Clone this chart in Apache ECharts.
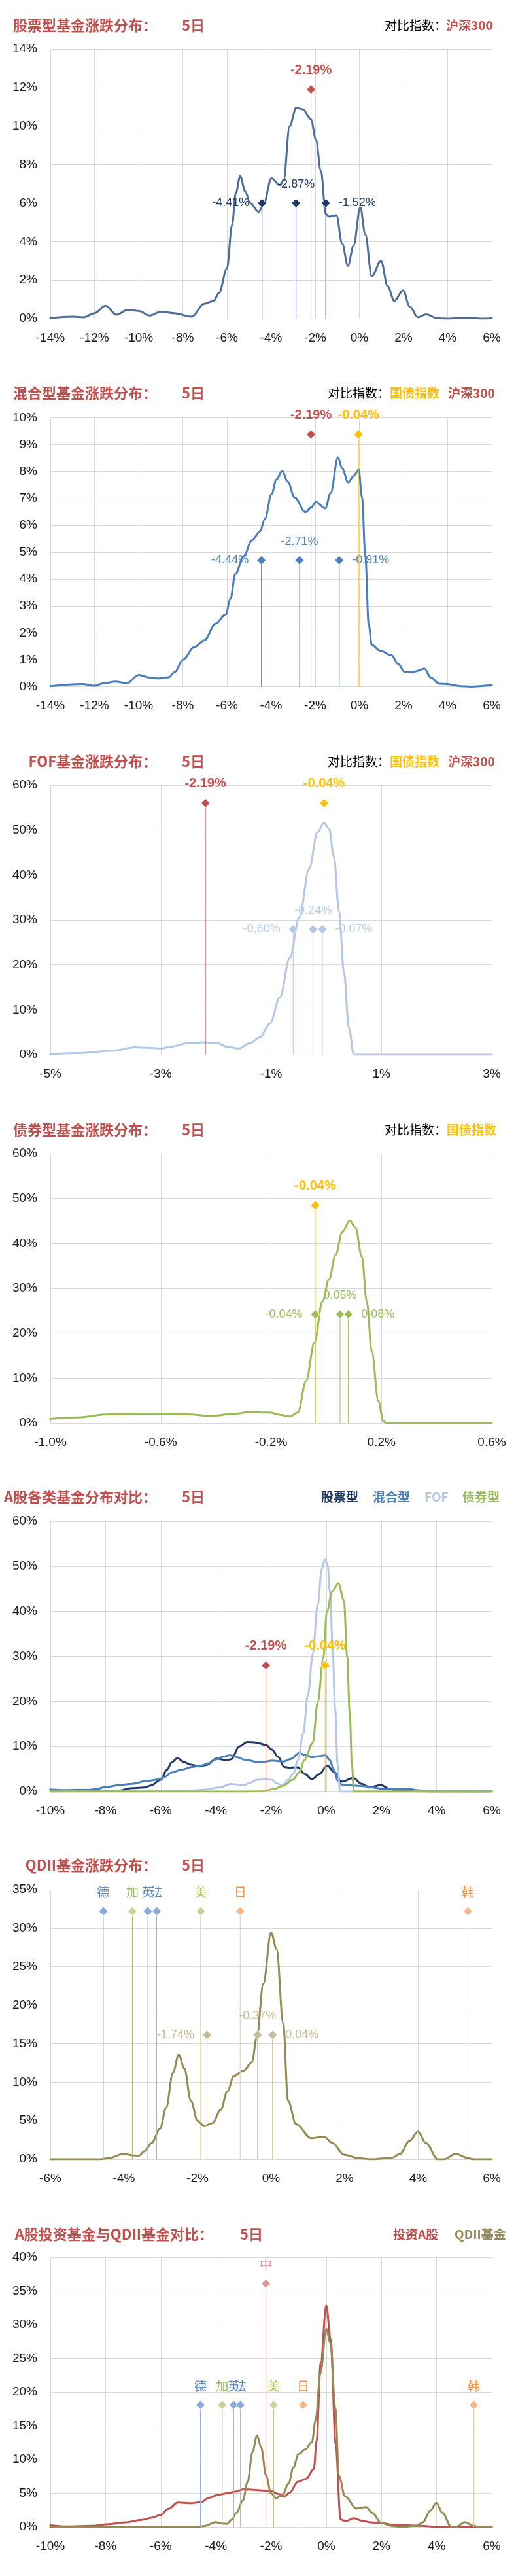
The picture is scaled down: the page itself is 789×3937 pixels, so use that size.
<!DOCTYPE html>
<html><head><meta charset="utf-8">
<script src="https://cdn.jsdelivr.net/npm/echarts@6/dist/echarts.min.js"></script>
<style>html,body{margin:0;padding:0;background:#fff}#c{width:789px;height:3937px}</style>
</head><body><div id="c"></div>
<script>
// ---------------- DATA ----------------
const stockCurve = [[-14,0.02],[-13,0.1],[-12.5,0.07],[-12,0.28],[-11.5,0.67],[-11,0.2],[-10.5,0.46],[-10,0.4],[-9.5,0.16],[-9,0.36],[-8.4,0.28],[-7.6,0.1],[-7.03,0.77],[-6.6,0.92],[-6.36,1.33],[-6.0,2.6],[-5.77,4.85],[-5.6,6.5],[-5.4,7.4],[-5.17,6.6],[-4.95,6.0],[-4.57,5.55],[-4.35,5.9],[-3.98,7.3],[-3.6,6.93],[-3.43,7.2],[-3.16,10.0],[-2.86,10.96],[-2.56,10.87],[-2.19,10.35],[-1.97,9.3],[-1.74,7.66],[-1.52,5.43],[-1.37,5.3],[-1.04,5.37],[-0.78,3.9],[-0.52,2.74],[-0.26,3.8],[0.04,5.78],[0.27,4.38],[0.56,2.2],[0.98,3.0],[1.28,1.69],[1.58,0.92],[1.98,1.47],[2.28,0.63],[2.65,0.07],[3.02,0.22],[3.54,0.02],[4,0],[4.9,0.05],[5.5,0],[6,0.02]];
const mixedCurve = [[-14,0.02],[-12.54,0.1],[-12.02,0.03],[-11.57,0.13],[-11.05,0.19],[-10.53,0.13],[-10.0,0.44],[-9.49,0.34],[-9.12,0.31],[-8.64,0.35],[-8.37,0.54],[-8.0,1.0],[-7.48,1.47],[-7.03,1.72],[-6.51,2.35],[-6.06,2.68],[-5.84,3.27],[-5.62,4.19],[-5.24,4.86],[-4.87,5.44],[-4.5,5.78],[-4.28,6.24],[-3.98,7.16],[-3.76,7.7],[-3.5,8.02],[-3.24,7.62],[-2.94,7.04],[-2.44,6.49],[-2.19,6.66],[-1.97,6.87],[-1.55,6.63],[-1.3,7.2],[-0.97,8.53],[-0.78,8.12],[-0.51,7.6],[-0.26,7.83],[-0.03,8.07],[0.12,7.04],[0.27,4.86],[0.42,2.34],[0.56,1.55],[0.94,1.34],[1.46,1.17],[1.76,0.84],[2.06,0.54],[2.5,0.56],[2.95,0.67],[3.24,0.34],[3.62,0.11],[4.0,0.1],[4.58,0.02],[5.03,0],[6,0.06]];
const fofCurve = [[-5,0.16],[-4.42,0.4],[-3.88,0.9],[-3.46,1.67],[-3.23,1.56],[-2.99,1.4],[-2.81,1.8],[-2.51,2.6],[-2.21,2.76],[-1.97,2.6],[-1.8,1.8],[-1.59,1.4],[-1.38,2.6],[-1.2,3.9],[-1.02,7.0],[-0.84,12.8],[-0.66,21.6],[-0.49,30.5],[-0.31,41.4],[-0.16,49.5],[-0.04,51.6],[0.05,50.3],[0.14,44.0],[0.23,32.0],[0.32,18.5],[0.41,6.0],[0.5,0],[1,0],[3,0]];
const fofLeftTail = [[-10,0],[-7,0.03]];
const bondCurve = [[-1.0,0.95],[-0.907,1.26],[-0.788,1.96],[-0.681,2.06],[-0.562,2.06],[-0.502,1.96],[-0.419,1.6],[-0.347,2.0],[-0.276,2.46],[-0.204,2.36],[-0.168,1.86],[-0.133,1.46],[-0.103,2.36],[-0.073,9.4],[-0.043,17.9],[-0.014,27.0],[0.010,32.0],[0.034,37.5],[0.058,42.5],[0.085,45.1],[0.106,43.5],[0.129,37.0],[0.147,27.0],[0.165,15.9],[0.189,4.9],[0.207,0.35],[0.219,0],[0.3,0],[0.6,0]];
const bondCurveCompare = [[-10,0],[-3,0],[-2.3,0.05],[-1.92,0.5],[-1.57,1.25],[-1.21,2.6],[-0.97,4.3],[-0.79,7.0],[-0.49,10.8],[-0.31,19.8],[-0.10,29.8],[0.02,40.0],[0.22,44.5],[0.44,46.2],[0.64,42.4],[0.76,29.8],[0.85,17.3],[0.93,6],[1.0,0],[1.5,0],[6,0]];
const qdiiCurve = [[-6,0],[-4.68,0],[-4.41,0.15],[-4.01,0.7],[-3.78,0.52],[-3.6,0.45],[-3.43,1.06],[-3.25,2.1],[-3.02,3.95],[-2.85,6.7],[-2.67,11.2],[-2.51,13.57],[-2.36,11.8],[-2.18,7.6],[-2.0,5.0],[-1.82,4.3],[-1.59,4.7],[-1.37,6.4],[-1.19,8.8],[-1.01,10.8],[-0.75,11.5],[-0.52,12.6],[-0.39,15.8],[-0.21,22.8],[0.0,29.4],[0.15,27.3],[0.33,17.6],[0.46,7.6],[0.68,4.55],[1.09,2.73],[1.44,2.94],[1.67,2.1],[1.98,0.6],[2.38,0.15],[2.74,0],[3.28,0.2],[3.5,0.67],[3.77,2.4],[3.99,3.58],[4.21,2.1],[4.53,0],[4.7,0],[5.02,0.7],[5.33,0.2],[5.51,0],[6,0]];
const qdiiLeftTail = [[-10,0]];
const aShareCurve = [[-10,0.24],[-9.43,0.07],[-8.48,0.17],[-7.88,0.41],[-7.28,0.69],[-6.69,1.04],[-6.33,1.35],[-6.0,1.8],[-5.73,2.66],[-5.38,3.62],[-4.9,3.52],[-4.54,3.69],[-4.25,4.31],[-3.95,4.73],[-3.59,5.0],[-3.29,5.24],[-3.0,5.59],[-2.64,5.52],[-2.28,5.42],[-1.98,5.31],[-1.74,4.9],[-1.54,4.49],[-1.33,5.07],[-1.03,6.69],[-0.73,7.14],[-0.45,8.6],[-0.35,12.8],[-0.2,24.4],[0.0,32.85],[0.16,27.8],[0.34,12.3],[0.52,1.1],[0.70,0.86],[1.0,1.28],[1.29,0.93],[1.59,0.69],[2.01,0.59],[2.49,0.24],[2.96,0.24],[3.44,0.17],[4.03,0],[6,0]];

const hs300Return = -2.19;
const bondIndexReturn = -0.04;
const stockMarks = [-4.41, -2.87, -1.52];
const mixedMarks = [-4.44, -2.71, -0.91];
const fofMarks = [-0.60, -0.24, -0.07];
const bondMarks = [-0.04, 0.05, 0.08];
const qdiiMarks = [-1.74, -0.37, 0.04];
const countryNames = ['德','加','英','法','美','日','韩'];
const countryReturns = [-4.56, -3.77, -3.35, -3.11, -1.91, -0.84, 5.35];
const chinaName = '中';
const chinaReturn = -2.19;

// marker heights (in each panel's y units)
const markLevels = {p1:[6.0,11.9], p2:[4.7,9.38], p3:[27.9,56], p4:[24.2,48.5], p5:[28], p6:[16.15,32.2], p7:[18.1,36.1]};

const titles = ['股票型基金涨跌分布：','混合型基金涨跌分布：','FOF基金涨跌分布：','债券型基金涨跌分布：','A股各类基金分布对比：','QDII基金涨跌分布：','A股投资基金与QDII基金对比：'];
const periodText = '5日';

// ---------------- STYLE ----------------
const RED='#C0504D', GOLD='#FFC000', NAVY='#1F3864', BLUE='#4A7EBB', LBLUE='#B4C7E7', GREEN='#9BBB59', OLIVE='#948A54', KHAKI='#C4BD97';
const CN='"Noto Sans CJK SC", sans-serif';
const NUM='"Liberation Sans", Arial, sans-serif';
const countryGroup = {德:'b',加:'g',英:'b',法:'b',美:'g',日:'o',韩:'o'};
const groupStyle = {b:{fill:'#8EA9DB',line:'#95B3D7',text:'#5E88C4'}, g:{fill:'#C3D69B',line:'#A6BD6A',text:'#9BBB59'}, o:{fill:'#F9B88A',line:'#F9C49E',text:'#F79646'}};

const panels = [
  {top:75,   h:412, xmin:-14, xmax:6, xint:2, ymax:14, yint:2, shift:0, dec:0},
  {top:638.5,h:411, xmin:-14, xmax:6, xint:2, ymax:10, yint:1, shift:0, dec:0},
  {top:1200, h:412, xmin:-5,  xmax:3, xint:2, ymax:60, yint:10, shift:5, dec:0},
  {top:1763, h:412, xmin:-1.0,xmax:0.6,xint:0.4, ymax:60, yint:10, shift:1, dec:1},
  {top:2325, h:413, xmin:-10, xmax:6, xint:2, ymax:60, yint:10, shift:0, dec:0},
  {top:2888, h:412, xmin:-6,  xmax:6, xint:2, ymax:35, yint:5, shift:0, dec:0},
  {top:3450, h:412, xmin:-10, xmax:6, xint:2, ymax:40, yint:5, shift:0, dec:0}
];
const titleY = [38.6, 601, 1164, 1726.5, 2288, 2851, 3414.5];

const grid=[], xAxis=[], yAxis=[], series=[], graphic=[];
const gridColor='#D9D9D9';
panels.forEach((p,i)=>{
  grid.push({left:77, width:675, top:p.top, height:p.h, containLabel:false});
  xAxis.push({type:'value', gridIndex:i, min:p.xmin+p.shift, max:p.xmax+p.shift, interval:p.xint,
    axisLine:{show:false}, axisTick:{show:false},
    splitLine:{show:true, lineStyle:{color:gridColor, width:1}},
    axisLabel:{margin:20, fontFamily:NUM, fontSize:19, color:'#1a1a1a',
      formatter:v=>{ const r=v-p.shift; return (p.dec? r.toFixed(p.dec): String(Math.round(r)))+'%'; }}});
  yAxis.push({type:'value', gridIndex:i, min:0, max:p.ymax, interval:p.yint,
    axisLine:{show:false}, axisTick:{show:false},
    splitLine:{show:true, lineStyle:{color:gridColor, width:1}},
    axisLabel:{margin:20, fontFamily:NUM, fontSize:19, color:'#1a1a1a', formatter:'{value}%'}});
});

function curve(gi, data, color, z){
  const s = panels[gi].shift;
  series.push({type:'line', xAxisIndex:gi, yAxisIndex:gi, data:data.map(d=>[d[0]+s,d[1]]),
    smooth:0.35, smoothMonotone:'x', symbol:'none', showSymbol:false,
    lineStyle:{color, width:3, cap:'round', join:'round'}, z:z||3, animation:false, silent:true});
}
function marker(gi, x, level, o){
  const s = panels[gi].shift;
  series.push({type:'line', xAxisIndex:gi, yAxisIndex:gi, animation:false, silent:true, z:o.z||6,
    symbol:'none', label:{show:false},
    lineStyle:{color:o.line, width:1},
    itemStyle:{color:o.fill, borderColor:'#fff', borderWidth:1},
    data:[{value:[x+s,0], symbol:'none'},
          {value:[x+s,level], symbol:'diamond', symbolSize:14,
           label:{show:true, position:o.pos||'top', distance:(o.dist==null?12:o.dist), formatter:()=>o.text,
             color:o.tc||o.fill, fontFamily:o.font||NUM, fontSize:o.size||18, fontWeight:o.bold?'bold':'normal'}}]});
}
const pct = v => v.toFixed(2)+'%';
function fundMarks(gi, marks, level, fill, tc){
  marker(gi, marks[0], level, {fill, line:fill, tc, text:pct(marks[0]), pos:'left', dist:12});
  marker(gi, marks[1], level, {fill, line:fill, tc, text:pct(marks[1]), pos:'top', dist:12});
  marker(gi, marks[2], level, {fill, line:fill, tc, text:pct(marks[2]), pos:'right', dist:12});
}
function indexMark(gi, x, level, color){
  marker(gi, x, level, {fill:color, line:color, text:pct(x), pos:'top', dist:12, bold:true, size:20, z:7});
}
function countryMarks(gi, level){
  countryNames.forEach((n,k)=>{
    const g = groupStyle[countryGroup[n]];
    marker(gi, countryReturns[k], level, {fill:g.fill, line:g.line, tc:g.text, text:n, pos:'top', dist:12, font:CN, size:19});
  });
}

// Panel 1 stock
curve(0, stockCurve, '#4F6D99');
fundMarks(0, stockMarks, markLevels.p1[0], NAVY, NAVY);
indexMark(0, hs300Return, markLevels.p1[1], RED);
// Panel 2 mixed
curve(1, mixedCurve, BLUE);
fundMarks(1, mixedMarks, markLevels.p2[0], '#4F81BD', '#4F81BD');
indexMark(1, hs300Return, markLevels.p2[1], RED);
indexMark(1, bondIndexReturn, markLevels.p2[1], GOLD);
// Panel 3 FOF
curve(2, fofCurve, LBLUE);
fundMarks(2, fofMarks, markLevels.p3[0], LBLUE, '#B9CDE5');
indexMark(2, hs300Return, markLevels.p3[1], RED);
indexMark(2, bondIndexReturn, markLevels.p3[1], GOLD);
// Panel 4 bond
curve(3, bondCurve, GREEN);
fundMarks(3, bondMarks, markLevels.p4[0], GREEN, GREEN);
indexMark(3, bondIndexReturn, markLevels.p4[1], GOLD);
// Panel 5 comparison
curve(4, stockCurve.filter(d=>d[0]>=-10), NAVY, 3);
curve(4, mixedCurve.filter(d=>d[0]>=-10), BLUE, 3);
curve(4, fofLeftTail.concat(fofCurve).concat([[6,0]]), LBLUE, 3);
curve(4, bondCurveCompare, GREEN, 3);
indexMark(4, hs300Return, markLevels.p5[0], RED);
indexMark(4, bondIndexReturn, markLevels.p5[0], GOLD);
// Panel 6 QDII
curve(5, qdiiCurve, OLIVE);
fundMarks(5, qdiiMarks, markLevels.p6[0], KHAKI, KHAKI);
countryMarks(5, markLevels.p6[1]);
// Panel 7 A-share vs QDII
curve(6, aShareCurve, RED, 3);
curve(6, qdiiLeftTail.concat(qdiiCurve), OLIVE, 4);
countryMarks(6, markLevels.p7[0]);
marker(6, chinaReturn, markLevels.p7[1], {fill:'#DA9694', line:'#DA9694', tc:'#DA9694', text:chinaName, pos:'top', dist:12, font:CN, size:19});

// ---------------- TEXTS ----------------
function txt(x, y, text, color, bold, size, align){
  graphic.push({type:'text', silent:true, style:{x, y, text, fill:color,
    font:(bold?'bold ':'')+size+'px '+CN, align:align||'left', textAlign:align||'left',
    verticalAlign:'middle', textVerticalAlign:'middle'}});
}
titles.forEach((t,i)=>{
  const right = i===6 ? 326 : 240;
  const px = i===6 ? 367 : 278;
  txt(right, titleY[i], t, RED, true, 22, 'right');
  txt(px, titleY[i], periodText, RED, true, 22, 'left');
});
txt(588, titleY[0], '对比指数：', '#000', false, 19); txt(682, titleY[0], '沪深300', RED, true, 19);
txt(501, titleY[1], '对比指数：', '#000', false, 19); txt(596, titleY[1], '国债指数', GOLD, true, 19); txt(685, titleY[1], '沪深300', RED, true, 19);
txt(501, titleY[2], '对比指数：', '#000', false, 19); txt(596, titleY[2], '国债指数', GOLD, true, 19); txt(685, titleY[2], '沪深300', RED, true, 19);
txt(588, titleY[3], '对比指数：', '#000', false, 19); txt(683, titleY[3], '国债指数', GOLD, true, 19);
txt(491, titleY[4], '股票型', NAVY, true, 19); txt(570, titleY[4], '混合型', '#4F81BD', true, 19);
txt(649, titleY[4], 'FOF', LBLUE, true, 19); txt(707, titleY[4], '债券型', GREEN, true, 19);
txt(601, titleY[6], '投资A股', RED, true, 19); txt(695, titleY[6], 'QDII基金', OLIVE, true, 19);

const chart = echarts.init(document.getElementById('c'), null, {renderer:'canvas'});
chart.setOption({backgroundColor:'#fff', animation:false, grid, xAxis, yAxis, series, graphic});
</script>
</body></html>
